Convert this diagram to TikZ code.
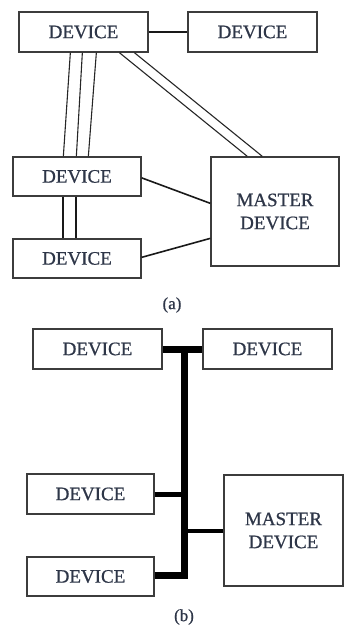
\documentclass[tikz,border=0pt]{standalone}
\usepackage{fontspec}
\setmainfont{Liberation Serif}
\newfontfamily\devfont{Liberation Serif}[FakeBold=0.8]
\usetikzlibrary{calc}
\definecolor{boxline}{HTML}{3C3C3C}
\definecolor{txt}{HTML}{2E3648}
\tikzset{
  devbox/.style={draw=boxline, line width=1.3pt, fill=white, inner sep=0pt,
    font=\devfont\fontsize{19}{23}\selectfont, text=txt, align=center},
  thin/.style={draw=black!85, line width=1.1pt},
  mid/.style={draw=black!90, line width=1.6pt},
  bus/.style={draw=black, line width=7pt, line join=miter},
  lbl/.style={font=\devfont\fontsize{17}{20}\selectfont, text=txt}
}
\begin{document}
\begin{tikzpicture}[x=1pt,y=-1pt]
\useasboundingbox (0,0) rectangle (345,627);
% ---------- (a)
\node[devbox, minimum width=129pt, minimum height=40pt] (A1) at (83.5,32) {DEVICE};
\node[devbox, minimum width=129pt, minimum height=40pt] (A2) at (252.5,32) {DEVICE};
\node[devbox, minimum width=128pt, minimum height=39pt] (A3) at (77,176.5) {DEVICE};
\node[devbox, minimum width=128pt, minimum height=39pt] (A4) at (77,258.5) {DEVICE};
\node[devbox, minimum width=128pt, minimum height=109pt] (AM) at (275,211.5) {MASTER\\DEVICE};
\node[lbl] (la) at (172,305) {(a)};
\draw[mid] (A1.east) -- (A2.west);
\foreach \t/\b in {52/51,64/64,78/76} {
  \draw[thin] ($(A1.south west)+(\t,0)$) -- ($(A3.north west)+(\b,0)$);
}
\draw[thin] ($(A1.south west)+(101,0)$) -- ($(AM.north west)+(37,0)$);
\draw[thin] ($(A1.south west)+(116,0)$) -- ($(AM.north west)+(52,0)$);
\draw[mid, line width=2.2pt] ($(A3.south west)+(51,0)$) -- ($(A4.north west)+(51,0)$);
\draw[mid, line width=2.2pt] ($(A3.south west)+(64,0)$) -- ($(A4.north west)+(64,0)$);
\draw[mid] ($(A3.north east)+(0,21.5)$) -- ($(AM.north west)+(0,47)$);
\draw[mid] ($(A4.north east)+(0,19)$) -- ($(AM.north west)+(0,82)$);
% ---------- (b)
\node[devbox, minimum width=129pt, minimum height=40pt] (B1) at (97.5,349) {DEVICE};
\node[devbox, minimum width=129pt, minimum height=40pt] (B2) at (267.5,349) {DEVICE};
\node[devbox, minimum width=127pt, minimum height=40pt] (B3) at (90.5,494) {DEVICE};
\node[devbox, minimum width=127pt, minimum height=39pt] (B4) at (90.5,576.5) {DEVICE};
\node[devbox, minimum width=119pt, minimum height=111pt] (BM) at (283.5,530.5) {MASTER\\DEVICE};
\node[lbl] (lb) at (184,617) {(b)};
\coordinate (bt) at (184,349);
\coordinate (bb) at (184,575);
\draw[bus] (B1.east) -- (B2.west);
\draw[bus] (B4.east |- bb) -- (bb) -- (bt);
\draw[draw=black, line width=5pt] (B3.east) -- (B3.east -| bt);
\draw[draw=black, line width=4pt] (BM.west) -- (BM.west -| bt);
\end{tikzpicture}
\end{document}
